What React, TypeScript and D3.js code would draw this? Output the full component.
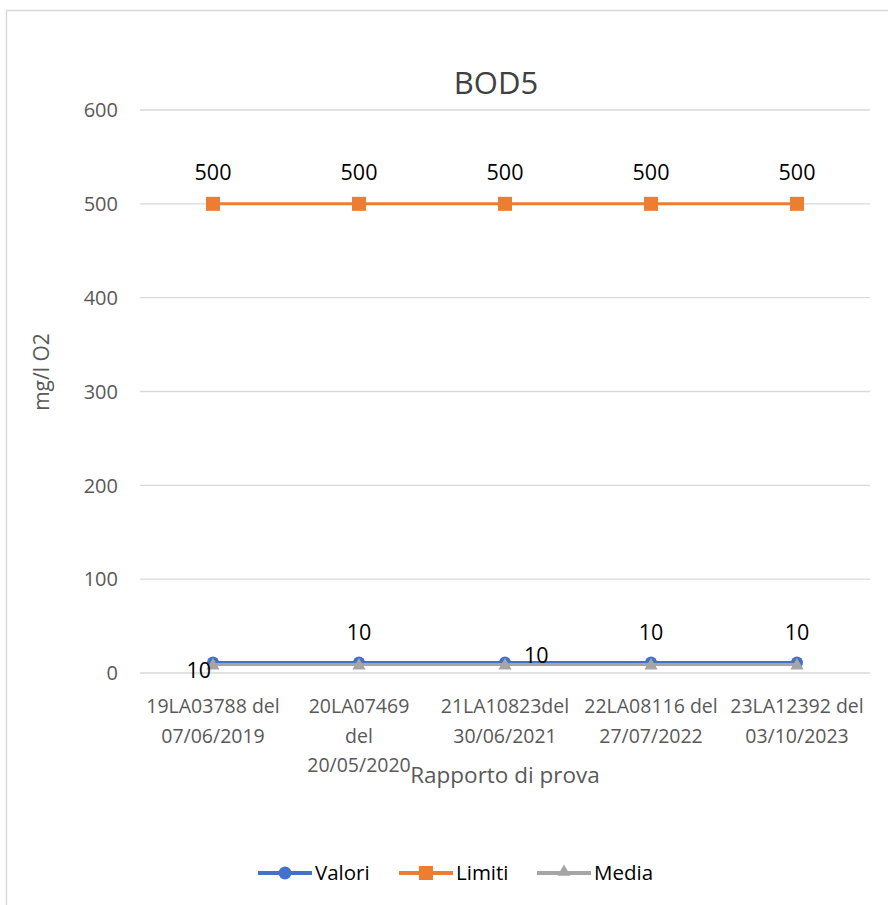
import React from "react";
import * as d3 from "d3";

const categories: string[][] = [
  ["19LA03788 del", "07/06/2019"],
  ["20LA07469", "del", "20/05/2020"],
  ["21LA10823del", "30/06/2021"],
  ["22LA08116 del", "27/07/2022"],
  ["23LA12392 del", "03/10/2023"],
];
const valori = [10, 10, 10, 10, 10];
const limiti = [500, 500, 500, 500, 500];
const media = [10, 10, 10, 10, 10];
const yTicks = [0, 100, 200, 300, 400, 500, 600];
// label placement for the small-value labels
const lowLabelPos = ["left", "above", "right", "above", "above"];

const W = 888;
const H = 905;
const FONT = "'Open Sans', sans-serif";

export default function App() {
  const left = 140, right = 870, top = 110, bottom = 673;
  const x = d3.scaleBand<number>().domain(d3.range(categories.length)).range([left, right]);
  const y = d3.scaleLinear().domain([0, 600]).range([bottom, top]);
  const cx = (i: number) => (x(i) as number) + x.bandwidth() / 2;
  const line = d3.line<number>().x((_, i) => cx(i)).y((d) => y(d));
  const tri = d3.symbol().type(d3.symbolTriangle).size(75)();

  return (
    <svg width={W} height={H} style={{ position: "absolute", left: 0, top: 0, fontFamily: FONT }}>
      <rect x={0} y={0} width={W} height={H} fill="#fff" />
      <rect x={6.5} y={10.5} width={1000} height={1000} fill="#fff" stroke="#d9d9d9" strokeWidth={1.5} />
      <text x={496} y={94} textAnchor="middle" fontSize={31} fill="#404040">BOD5</text>

      {yTicks.map((t) => (
        <g key={t}>
          <line x1={left} x2={right} y1={y(t)} y2={y(t)} stroke="#d9d9d9" strokeWidth={1.3} />
          <text x={118} y={y(t)} dy="0.36em" textAnchor="end" fontSize={20} fill="#595959">{t}</text>
        </g>
      ))}

      {categories.map((lines, i) => (
        <text key={i} textAnchor="middle" fontSize={19.5} fill="#595959">
          {lines.map((l, j) => (
            <tspan key={j} x={cx(i)} y={713 + j * 29.5}>{l}</tspan>
          ))}
        </text>
      ))}

      <text x={505} y={783} textAnchor="middle" fontSize={22.5} fill="#595959">Rapporto di prova</text>
      <text transform={`translate(49,372) rotate(-90)`} textAnchor="middle" fontSize={21} fill="#595959">mg/l O2</text>

      {/* Limiti */}
      <path d={line(limiti) as string} fill="none" stroke="#ED7D31" strokeWidth={3} />
      {limiti.map((v, i) => (
        <rect key={i} x={cx(i) - 7} y={y(v) - 7} width={14} height={14} fill="#ED7D31" />
      ))}
      {limiti.map((v, i) => (
        <text key={i} x={cx(i)} y={y(v) - 24} textAnchor="middle" fontSize={21.5} fill="#000">{v}</text>
      ))}

      {/* Valori */}
      <path d={line(valori) as string} fill="none" stroke="#4472C4" strokeWidth={3} transform="translate(0,-1)" />
      {valori.map((v, i) => (
        <circle key={i} cx={cx(i)} cy={y(v) - 1} r={6} fill="#4472C4" />
      ))}

      {/* Media */}
      <path d={line(media) as string} fill="none" stroke="#A5A5A5" strokeWidth={3} transform="translate(0,1)" />
      {media.map((v, i) => (
        <path key={i} d={tri as string} transform={`translate(${cx(i)},${y(v) + 2})`} fill="#A5A5A5" />
      ))}

      {valori.map((v, i) => {
        const p = lowLabelPos[i];
        const px = p === "left" ? cx(i) - 2 : p === "right" ? cx(i) + 19 : cx(i);
        const py = p === "above" ? y(v) - 24 : p === "left" ? y(v) + 14 : y(v) - 1;
        const anchor = p === "left" ? "end" : p === "right" ? "start" : "middle";
        return (
          <text key={i} x={px} y={py} textAnchor={anchor} fontSize={21.5} fill="#000">{v}</text>
        );
      })}

      {/* Legend */}
      {[
        { name: "Valori", color: "#4472C4", x0: 258, shape: "circle" },
        { name: "Limiti", color: "#ED7D31", x0: 399, shape: "square" },
        { name: "Media", color: "#A5A5A5", x0: 537, shape: "tri" },
      ].map((it) => (
        <g key={it.name}>
          <line x1={it.x0} x2={it.x0 + 54} y1={873} y2={873} stroke={it.color} strokeWidth={4} />
          {it.shape === "circle" && <circle cx={it.x0 + 27} cy={873} r={6.5} fill={it.color} />}
          {it.shape === "square" && <rect x={it.x0 + 20} y={866} width={14} height={14} fill={it.color} />}
          {it.shape === "tri" && <path d={tri as string} transform={`translate(${it.x0 + 27},872)`} fill={it.color} />}
          <text x={it.x0 + 57} y={873} dy="0.36em" fontSize={20.5} fill="#000">{it.name}</text>
        </g>
      ))}
    </svg>
  );
}
